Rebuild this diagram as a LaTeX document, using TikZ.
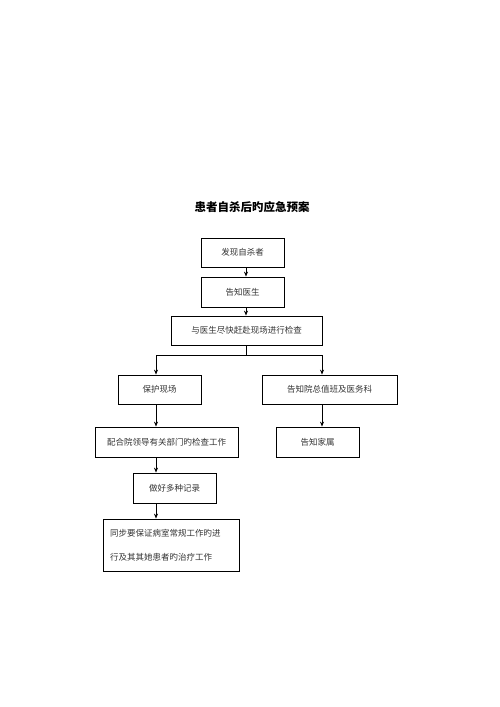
\documentclass[tikz,border=0pt]{standalone}
\usepackage{fontspec}
\newfontfamily\cjk{Noto Sans CJK SC}
\usetikzlibrary{arrows.meta}
\tikzset{
  box/.style={draw=black, line width=0.8pt, minimum height=29pt, inner sep=0pt, font=\cjk\fontsize{8.5}{10}\selectfont, text=black!80},
  arr/.style={line width=0.8pt, -{Stealth[length=5pt,width=4pt]}},
  ln/.style={line width=0.8pt}
}
\begin{document}
\begin{tikzpicture}[x=1pt,y=-1pt]
\useasboundingbox (0,0) rectangle (500,707);
\node[font=\cjk\bfseries\fontsize{11.5}{13}\selectfont] (title) at (252,207) {患者自杀后旳应急预案};
\node[box, minimum width=83pt] (b1) at (242.5,252.5) {发现自杀者};
\node[box, minimum width=83pt, minimum height=30pt] (b2) at (242.5,292) {告知医生};
\node[box, minimum width=151pt] (b3) at (246.5,330.5) {与医生尽快赶赴现场进行检查};
\node[box, minimum width=83pt] (b4) at (159.5,389.5) {保护现场};
\node[box, minimum width=135pt] (b5) at (329.5,389.5) {告知院总值班及医务科};
\node[box, minimum width=143pt, minimum height=30pt] (b6) at (166.5,442) {配合院领导有关部门旳检查工作};
\node[box, minimum width=83pt, minimum height=30pt] (b7) at (317.5,442) {告知家属};
\node[box, minimum width=83pt, minimum height=30pt] (b8) at (174.5,488) {做好多种记录};
\node[box, minimum width=136pt, minimum height=52pt, align=left, text width=122pt, font=\cjk\fontsize{8.5}{24}\selectfont] (b9) at (171,545) {同步要保证病室常规工作旳进\\行及其其她患者旳治疗工作};
\coordinate (cx) at (246,0);
\coordinate (lx) at (156,0);
\coordinate (rx) at (322,0);
\coordinate (j) at (246.5,355);
\draw[arr] (b1.south -| cx) -- (b2.north -| cx);
\draw[arr] (b2.south -| cx) -- (b3.north -| cx);
\draw[ln] (b3.south -| j) -- (j);
\draw[ln] (j -| lx) -- (j -| rx);
\draw[arr] (j -| lx) -- (b4.north -| lx);
\draw[arr] (j -| rx) -- (b5.north -| rx);
\draw[arr] (b4.south -| lx) -- (b6.north -| lx);
\draw[arr] (b6.south -| lx) -- (b8.north -| lx);
\draw[arr] (b8.south -| lx) -- (b9.north -| lx);
\draw[arr] (b5.south -| rx) -- (b7.north -| rx);
\end{tikzpicture}
\end{document}
